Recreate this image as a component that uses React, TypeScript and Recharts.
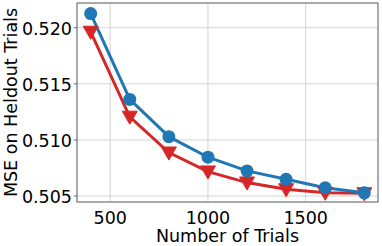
import React from 'react';
import { LineChart, Line, XAxis, YAxis, CartesianGrid } from 'recharts';

const trials = [400, 600, 800, 1000, 1200, 1400, 1600, 1800];
const blueMse = [0.52126, 0.51361, 0.51029, 0.50846, 0.50724, 0.50649, 0.50574, 0.50529];
const redMse = [0.51963, 0.51206, 0.50887, 0.50718, 0.5062, 0.5056, 0.50529, 0.50524];
const xTicks = [500, 1000, 1500];
const yTicks = [0.505, 0.51, 0.515, 0.52];

const data = trials.map((t, i) => ({ trials: t, blue: blueMse[i], red: redMse[i] }));

const FONT = '"DejaVu Sans", sans-serif';
const FS = 17.5;

const TriangleDown = (props: any) => {
  const { cx, cy } = props;
  if (cx == null || cy == null) return null;
  const r = 7.5;
  return (
    <path
      d={`M${cx - r},${cy - r * 0.75} L${cx + r},${cy - r * 0.75} L${cx},${cy + r} Z`}
      fill="#d62728"
      stroke="#d62728"
    />
  );
};

// matplotlib-like tick text, baseline placed just under the frame
const XTick = (props: any) => {
  const { x, payload } = props;
  return (
    <text x={x} y={223.5} textAnchor="middle" fontSize={FS} fontFamily={FONT} fill="#000">
      {payload.value}
    </text>
  );
};

const YTick = (props: any) => {
  const { x, y, payload } = props;
  return (
    <text x={x} y={y + 7.3} textAnchor="end" fontSize={FS} fontFamily={FONT} fill="#000">
      {payload.value.toFixed(3)}
    </text>
  );
};

const App: React.FC = () => {
  return (
    <div style={{ width: 382, height: 246, background: '#fff' }}>
      <style>{'body{margin:0}'}</style>
      <LineChart width={382} height={246} data={data} margin={{ top: 3, right: 4, left: 0, bottom: 0 }}>
        <CartesianGrid stroke="#d4d4d4" strokeWidth={1} />
        <XAxis
          dataKey="trials"
          type="number"
          domain={[330, 1870]}
          ticks={xTicks}
          height={44}
          tick={<XTick />}
          tickLine={false}
          axisLine={false}
          label={{
            content: (p: any) => (
              <text
                x={p.viewBox.x + p.viewBox.width / 2}
                y={241.5}
                textAnchor="middle"
                fontSize={FS}
                fontFamily={FONT}
                fill="#000"
              >
                Number of Trials
              </text>
            ),
          }}
        />
        <YAxis
          type="number"
          domain={[0.50447, 0.5222]}
          ticks={yTicks}
          width={77}
          tick={<YTick />}
          tickSize={3}
          tickMargin={2}
          tickLine={{ stroke: '#666' }}
          axisLine={false}
          allowDataOverflow
          label={{
            content: (p: any) => {
              const cx = 16.7;
              const cy = p.viewBox.y + p.viewBox.height / 2;
              return (
                <text
                  x={cx}
                  y={cy}
                  transform={`rotate(-90 ${cx} ${cy})`}
                  textAnchor="middle"
                  fontSize={FS}
                  fontFamily={FONT}
                  fill="#000"
                >
                  MSE on Heldout Trials
                </text>
              );
            },
          }}
        />
        <rect x={77} y={3} width={301} height={199} fill="none" stroke="#6a6a6a" strokeWidth={1} />
        <Line
          dataKey="red"
          stroke="#d62728"
          strokeWidth={3}
          dot={<TriangleDown />}
          isAnimationActive={false}
        />
        <Line
          dataKey="blue"
          stroke="#1f77b4"
          strokeWidth={3}
          dot={{ r: 6.5, fill: '#1f77b4', stroke: '#1f77b4', strokeWidth: 0 }}
          isAnimationActive={false}
        />
      </LineChart>
    </div>
  );
};

export default App;
